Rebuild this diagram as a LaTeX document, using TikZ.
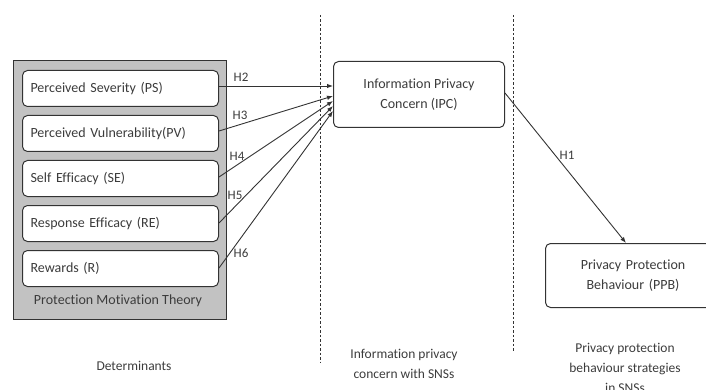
\documentclass[tikz,border=0pt]{standalone}
\usepackage{fontspec}
\setmainfont{Carlito}[Ligatures=NoCommon]
\usetikzlibrary{arrows.meta}
\definecolor{ink}{HTML}{333333}
\definecolor{txt}{HTML}{3C3C3C}
\definecolor{panel}{HTML}{C2C2C2}
\tikzset{
  construct/.style={draw=ink, line width=1pt, fill=white, rounded corners=5pt,
    text=txt, font=\fontsize{14}{20}\selectfont},
  factor/.style={construct, minimum width=192pt, minimum height=36pt,
    anchor=north west, text width=180pt, align=left, inner xsep=8pt},
  hyp/.style={-{Latex[length=6pt,width=4.5pt]}, draw=ink, line width=0.9pt},
  hlabel/.style={text=txt, font=\fontsize{13}{15}\selectfont},
  caption/.style={text=txt, font=\fontsize{13.5}{20}\selectfont, align=center},
  divider/.style={draw=ink, line width=0.9pt, dash pattern=on 2.5pt off 2pt}
}
\begin{document}
\begin{tikzpicture}[x=1pt,y=-1pt]
\useasboundingbox (0,0) rectangle (706,390);

% stage dividers
\draw[divider] (320,15) -- (320,362);
\draw[divider] (513,15) -- (513,352);

% determinants panel
\node[draw=ink, line width=1.1pt, fill=panel, minimum width=213pt, minimum height=259pt,
  anchor=north west, inner sep=0pt] (pmt) at (13,60) {};
\node[text=txt, font=\fontsize{14}{16}\selectfont] (pmtlabel) at (118,301) {Protection Motivation Theory};

\node[factor] (ps) at (22,70) {Perceived Severity (PS)};
\node[factor] (pv) at (22,115) {Perceived Vulnerability(PV)};
\node[factor] (se) at (22,160) {Self Efficacy (SE)};
\node[factor] (re) at (22,205) {Response Efficacy (RE)};
\node[factor] (rw) at (22,250) {Rewards (R)};

% outcome constructs
\node[construct, minimum width=171pt, minimum height=66pt, anchor=north west,
  align=center] (ipc) at (333,61) {Information Privacy\\Concern (IPC)};
\node[construct, minimum width=175pt, minimum height=64pt, anchor=north west,
  align=center, text width=150pt] (ppb) at (545,243) {Privacy Protection\\Behaviour (PPB)};

% hypothesised paths
\coordinate (t2) at (333,86);
\coordinate (t3) at (333,96);
\coordinate (t4) at (333,101);
\coordinate (t5) at (333,106);
\coordinate (t6) at (333,111);
\draw[hyp] (ps.east |- 0,86) -- (t2);
\draw[hyp] (pv.east |- 0,131) -- (t3);
\draw[hyp] (se.east |- 0,177) -- (t4);
\draw[hyp] (re.east |- 0,223) -- (t5);
\draw[hyp] (rw.east |- 0,268) -- (t6);
\draw[hyp] (ipc.east |- 0,93) -- (ppb.north -| 626,0);

\node[hlabel] (h2) at (241,77) {H2};
\node[hlabel] (h3) at (240,115) {H3};
\node[hlabel] (h4) at (237,156) {H4};
\node[hlabel] (h5) at (235,195) {H5};
\node[hlabel] (h6) at (241,253) {H6};
\node[hlabel] (h1) at (567,155) {H1};

% stage captions
\node[caption] (cap1) at (134,366) {Determinants};
\node[caption] (cap2) at (404,364) {Information privacy\\concern with SNSs};
\node[caption] (cap3) at (625,368) {Privacy protection\\behaviour strategies\\in SNSs};
\end{tikzpicture}
\end{document}
